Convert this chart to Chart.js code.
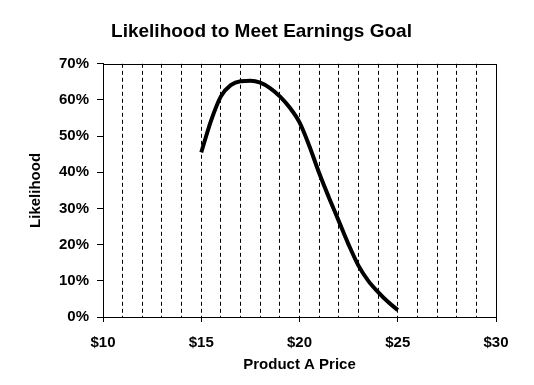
<!DOCTYPE html>
<html>
<head>
<meta charset="utf-8">
<script src="https://cdn.jsdelivr.net/npm/chart.js@4"></script>
<style>
  html, body { margin: 0; padding: 0; background: #fff; }
  #wrap { width: 534px; height: 385px; }
</style>
</head>
<body>
<div id="wrap"><canvas id="chart"></canvas></div>
<script>
// price points and likelihood (%)
const prices = [15, 15.5, 16, 16.5, 17, 17.5, 18, 18.5, 19, 19.5, 20, 20.5, 21, 21.5, 22, 22.5, 23, 23.5, 24, 24.5, 25];
const likelihood = [45.5, 54.3, 61, 64.1, 65.2, 65.3, 64.8, 63.3, 61, 57.9, 53.8, 47.3, 39.8, 33, 26.5, 20, 14.2, 10, 6.9, 4.2, 1.9];
const xRange = [10, 30];
const yRange = [0, 70];

const FONT = "'Liberation Sans', Arial, sans-serif";

// box round the plot area
const frame = {
  id: "frame",
  afterDraw(chart) {
    const a = chart.chartArea, ctx = chart.ctx;
    ctx.save();
    ctx.strokeStyle = "#000";
    ctx.lineWidth = 1;
    ctx.strokeRect(Math.round(a.left) + 0.5, Math.round(a.top) + 0.5,
      Math.round(a.right - a.left), Math.round(a.bottom - a.top));
    ctx.restore();
  }
};

new Chart(document.getElementById("chart"), {
  type: "line",
  data: {
    datasets: [{
      data: prices.map((p, i) => ({ x: p, y: likelihood[i] })),
      borderColor: "#000",
      borderWidth: 4,
      pointRadius: 0,
      cubicInterpolationMode: "monotone",
      fill: false
    }]
  },
  options: {
    responsive: true,
    maintainAspectRatio: false,
    animation: false,
    layout: { padding: { left: 27, right: 38, top: 0, bottom: 0 } },
    plugins: {
      legend: { display: false },
      tooltip: { enabled: false },
      title: {
        display: true,
        text: "Likelihood to Meet Earnings Goal",
        color: "#000",
        font: { family: FONT, size: 19, weight: "bold" },
        padding: { top: 20, bottom: 21 }
      }
    },
    scales: {
      x: {
        type: "linear",
        min: xRange[0], max: xRange[1],
        afterFit(s) { s.height = 68; },
        ticks: {
          stepSize: 1,
          autoSkip: false,
          maxRotation: 0,
          color: "#000",
          padding: 12,
          font: { family: FONT, size: 15, weight: "bold" },
          callback: v => (v % 5 === 0 ? "$" + v : "")
        },
        grid: {
          color: c => (c.tick && (c.tick.value === xRange[0] || c.tick.value === xRange[1]) ? "rgba(0,0,0,0)" : "#000"),
          lineWidth: 1,
          tickLength: 5,
          tickColor: c => (c.tick && c.tick.value % 5 === 0 ? "#000" : "rgba(0,0,0,0)")
        },
        border: { display: true, color: "#000", width: 1, dash: [4, 3] },
        title: {
          display: true,
          text: "Product A Price",
          color: "#000",
          font: { family: FONT, size: 15, weight: "bold" },
          padding: { top: 2, bottom: 11 }
        }
      },
      y: {
        min: yRange[0], max: yRange[1],
        afterFit(s) { s.width = 76; },
        ticks: {
          stepSize: 10,
          color: "#000",
          padding: 8,
          font: { family: FONT, size: 15, weight: "bold" },
          callback: v => v + "%"
        },
        grid: {
          drawOnChartArea: false,
          tickLength: 6,
          tickColor: "#000"
        },
        border: { display: true, color: "#000", width: 1 },
        title: {
          display: true,
          text: "Likelihood",
          color: "#000",
          font: { family: FONT, size: 15, weight: "bold" },
          padding: { top: 0, bottom: 8 }
        }
      }
    }
  },
  plugins: [frame]
});
</script>
</body>
</html>
